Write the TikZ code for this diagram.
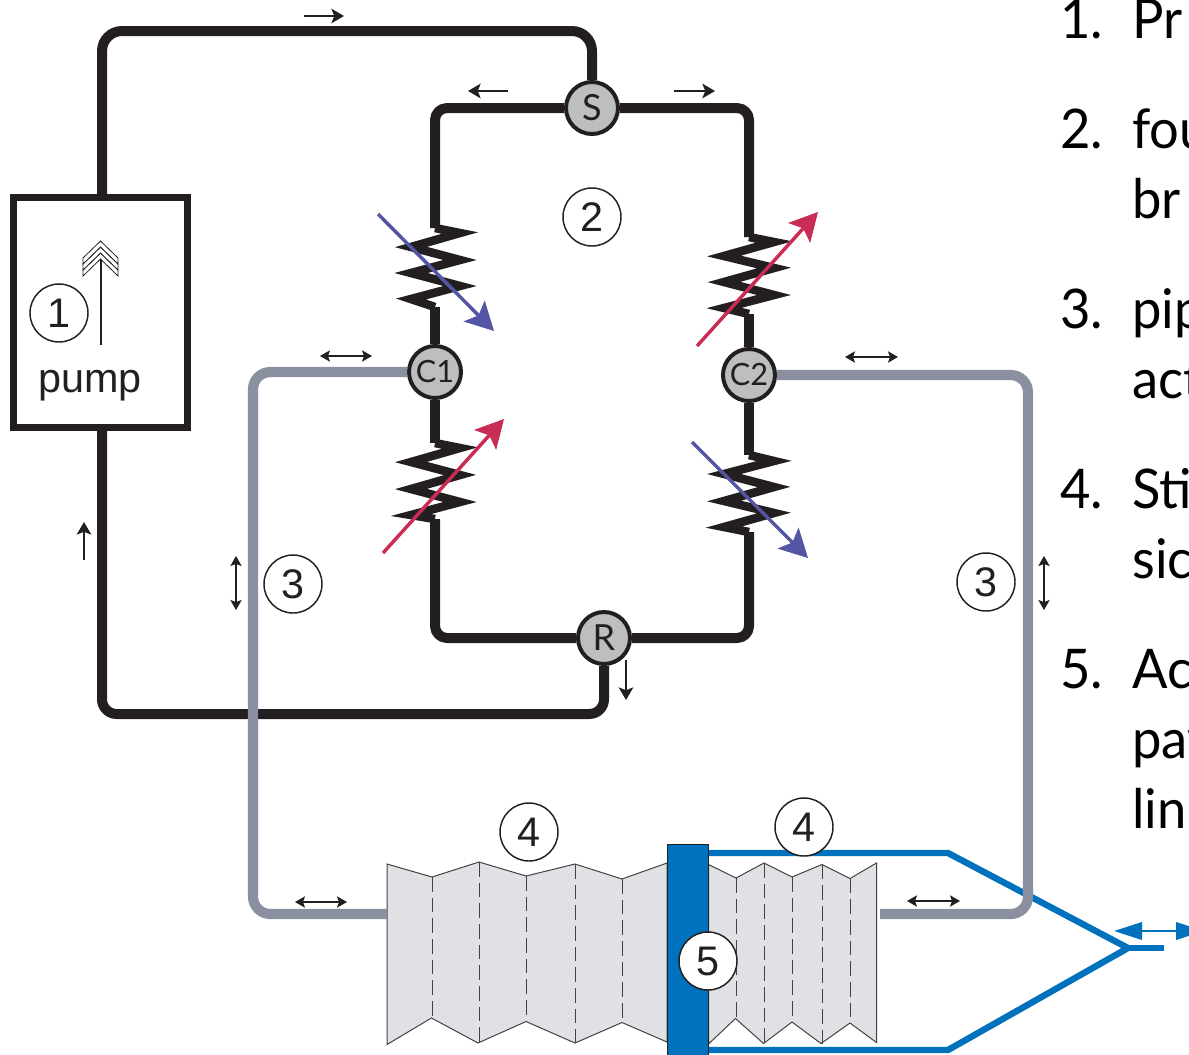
\documentclass[tikz,border=0pt]{standalone}
\usepackage{fontspec}
\setmainfont{Liberation Sans}
\newfontfamily\listfont[FakeStretch=0.96]{Lato}
\newfontfamily\valvefont{Lato}
\usetikzlibrary{arrows.meta}
\definecolor{ink}{HTML}{231F20}
\definecolor{pipegrey}{HTML}{8A90A0}
\definecolor{valvegrey}{HTML}{BCBEC0}
\definecolor{lineblue}{HTML}{0071BC}
\definecolor{bellowgrey}{HTML}{E1E1E5}
\definecolor{actblue}{HTML}{5555A5}
\definecolor{actred}{HTML}{C92C54}
\tikzset{
  x=0.75pt,y=-0.75pt,
  blackpipe/.style={draw=ink,line width=7.5pt,line join=round},
  greypipe/.style={draw=pipegrey,line width=7.6pt},
  bluepipe/.style={draw=lineblue,line width=4.8pt,line join=miter},
  zigzag/.style={draw=ink,line width=6.4pt,line join=miter,miter limit=30},
  valve/.style={circle,draw=ink,line width=3pt,fill=valvegrey,minimum size=39pt,inner sep=0pt,text=ink},
  bigvalve/.style={valve,font=\valvefont\fontsize{27}{27}\selectfont},
  smallvalve/.style={valve,font=\valvefont\fontsize{23}{23}\selectfont},
  tag/.style={circle,draw=ink,line width=1.1pt,fill=white,minimum size=43.5pt,inner sep=0pt,text=ink,font=\fontsize{31}{31}\selectfont},
  flow/.style={draw=ink,line width=0.9pt,-{Stealth[length=9.5pt,width=11pt,inset=2.2pt]}},
  flowboth/.style={draw=ink,line width=0.9pt,{Stealth[length=7.5pt,width=8.5pt,inset=1.5pt]}-{Stealth[length=7.5pt,width=8.5pt,inset=1.5pt]}},
  actblue arrow/.style={draw=actblue,line width=2.6pt,-{Stealth[length=21pt,width=22pt,inset=4.5pt]},actblue},
  actred arrow/.style={draw=actred,line width=2.6pt,-{Stealth[length=21pt,width=22pt,inset=4.5pt]},actred},
  bellows/.style={draw=ink!85,line width=0.75pt,fill=bellowgrey,line join=miter},
  fold/.style={draw=ink!85,line width=0.7pt,dash pattern=on 11pt off 4.5pt},
  chevron/.style={draw=ink,line width=0.6pt,fill=white},
  listtext/.style={anchor=base west,inner sep=0pt,text=black,font=\listfont\fontsize{41}{41}\selectfont},
}
\begin{document}
\begin{tikzpicture}
\useasboundingbox (0,0) rectangle (1189,1054);
\clip (0,0) rectangle (1189,1054);

% ---- nodes that the pipes attach to
\node[draw=ink,line width=4.8pt,minimum width=130.5pt,minimum height=172.5pt,inner sep=0pt] (pumpbox) at (100.5,312.5) {};
\node[bigvalve] (S) at (592,108) {S};
\node[smallvalve] (C1) at (435,372) {C1};
\node[smallvalve] (C2) at (749,375) {C2};
\node[bigvalve] (R) at (604,638) {R};

% ---- blue payload frame
\coordinate (bt) at (708,853);
\coordinate (bb) at (708,1050);
\coordinate (bj) at (1128,948);
\coordinate (bs) at (1164,948);
\draw[bluepipe] (bt) -- (948,853) -- (bj) -- (948,1050) -- (bb);
\draw[bluepipe] (bj) -- (bs);
\coordinate (ba) at (1114,931);
\coordinate (bc) at (1204,931);
\draw[draw=lineblue,line width=2pt,{Stealth[length=21pt,width=13pt,inset=0pt]}-{Stealth[length=21pt,width=13pt,inset=0pt]}] (ba) -- (bc);

% ---- bellows
\draw[bellows] (387,864) -- (432,877) -- (479,862) -- (526,876) -- (575,864) -- (622,879) -- (667,863)
  -- (667,1042) -- (622,1022.5) -- (575,1043) -- (526,1021.5) -- (478,1043) -- (431.5,1018) -- (387,1044.5) -- cycle;
\draw[bellows] (708.5,864.5) -- (736,878) -- (764,863) -- (792,877) -- (822,864.5) -- (850,878.5) -- (876.5,863)
  -- (876.5,1042.5) -- (850,1023) -- (821,1043.5) -- (792,1022) -- (763.5,1043.5) -- (735.5,1018.5) -- (708.5,1044) -- cycle;
\foreach \fx/\ft/\fb in {432/877/1018,479/862/1043,526/876/1021.5,575/864/1043,622/879/1022.5,
                         736/878/1018.5,764/863/1043.5,792/877/1022,822/864.5/1043.5,850/878.5/1023}
  \draw[fold] (\fx,\ft) -- (\fx,\fb);
\node[draw=ink,line width=0.75pt,fill=lineblue,minimum width=30.5pt,minimum height=180pt,inner sep=0pt,anchor=north] (plate) at (688,844) {};

% ---- pump loop
\coordinate (pumptop) at (102,196);
\coordinate (pumpbot) at (102,429);
\draw[blackpipe,rounded corners=15pt] (pumptop) -- (102,31) -- (592,31) [rounded corners=10pt] -- (S.north);
\draw[blackpipe,rounded corners=11pt] (pumpbot) -- (102,714) -- (604,714) -- (R.south);

% ---- bridge arms
\coordinate (r1a) at (435,228);
\coordinate (r1b) at (435,307);
\coordinate (r2a) at (435,443);
\coordinate (r2b) at (435,519);
\coordinate (r3a) at (749,237);
\coordinate (r3b) at (749,314);
\coordinate (r4a) at (749,455);
\coordinate (r4b) at (749,532);
\draw[blackpipe,rounded corners=9pt] (S.west) -- (435,108) -- (r1a);
\draw[blackpipe,rounded corners=9pt] (S.east) -- (749,108) -- (r3a);
\draw[blackpipe] (r1b) -- (C1.north);
\draw[blackpipe] (C1.south) -- (r2a);
\draw[blackpipe] (r3b) -- (C2.north);
\draw[blackpipe] (C2.south) -- (r4a);
\draw[blackpipe,rounded corners=9pt] (r2b) -- (435,638) -- (R.west);
\draw[blackpipe,rounded corners=9pt] (r4b) -- (749,638) -- (R.east);

\draw[zigzag] (r1a) -- (460,233) -- (411,247) -- (460,260) -- (411,273) -- (460,286) -- (411,299) -- (r1b);
\draw[zigzag] (r2a) -- (460,448) -- (411,462) -- (460,475) -- (411,489) -- (460,502) -- (411,515) -- (r2b);
\draw[zigzag] (r3a) -- (774,242) -- (724,256) -- (774,268) -- (724,282) -- (774,295) -- (724,308) -- (r3b);
\draw[zigzag] (r4a) -- (774,461) -- (724,474) -- (774,487) -- (724,501) -- (774,513) -- (724,527) -- (r4b);

% ---- grey pipes
\coordinate (gl) at (387,914);
\coordinate (gr) at (880,914);
\draw[greypipe,rounded corners=13pt] (C1.west) -- (253,372) -- (253,914) -- (gl);
\draw[greypipe,rounded corners=13pt] (C2.east) -- (1028,375) -- (1028,914) -- (gr);

% ---- actuation arrows
\coordinate (a1s) at (378,214); \coordinate (a1e) at (494,331);
\coordinate (a2s) at (383,553); \coordinate (a2e) at (504,419);
\coordinate (a3s) at (697,346); \coordinate (a3e) at (818,212);
\coordinate (a4s) at (692,442); \coordinate (a4e) at (808,558);
\draw[actblue arrow] (a1s) -- (a1e);
\draw[actred arrow] (a2s) -- (a2e);
\draw[actred arrow] (a3s) -- (a3e);
\draw[actblue arrow] (a4s) -- (a4e);

% ---- small flow arrows
\coordinate (f1a) at (304,16); \coordinate (f1b) at (344,16);
\coordinate (f2a) at (508,91); \coordinate (f2b) at (468,91);
\coordinate (f3a) at (674,91); \coordinate (f3b) at (715,91);
\coordinate (f4a) at (84,560); \coordinate (f4b) at (84,522);
\coordinate (f5a) at (626,660); \coordinate (f5b) at (626,700);
\coordinate (d1a) at (320,356); \coordinate (d1b) at (372,356);
\coordinate (d2a) at (845,357); \coordinate (d2b) at (898,357);
\coordinate (d3a) at (236,556); \coordinate (d3b) at (236,610);
\coordinate (d4a) at (1044,556); \coordinate (d4b) at (1044,610);
\coordinate (d5a) at (295,902); \coordinate (d5b) at (347,902);
\coordinate (d6a) at (907,901); \coordinate (d6b) at (960,901);
\draw[flow] (f1a) -- (f1b);
\draw[flow] (f2a) -- (f2b);
\draw[flow] (f3a) -- (f3b);
\draw[flow] (f4a) -- (f4b);
\draw[flow,line width=1.3pt] (f5a) -- (f5b);
\draw[flowboth] (d1a) -- (d1b);
\draw[flowboth] (d2a) -- (d2b);
\draw[flowboth] (d3a) -- (d3b);
\draw[flowboth] (d4a) -- (d4b);
\draw[flowboth] (d5a) -- (d5b);
\draw[flowboth] (d6a) -- (d6b);

% ---- pump symbol
\coordinate (pa) at (101,345);
\coordinate (pb) at (101,245);
\draw[draw=ink,line width=0.8pt] (pa) -- (pb);
\foreach \cy in {253,247,241}
  \draw[chevron] (100.5,\cy) -- (118,\cy+17) -- (118,\cy+23) -- (100.5,\cy+6) -- (83,\cy+23) -- (83,\cy+17) -- cycle;
\node[inner sep=0pt,text=ink,font=\fontsize{31}{31}\selectfont] (pumplabel) at (90,386) {pump};

% ---- numbered tags
\node[tag] (t1) at (59,313) {1};
\node[tag] (t2) at (592,217) {2};
\node[tag] (t3a) at (293,584) {3};
\node[tag] (t3b) at (986,582) {3};
\node[tag] (t4a) at (529,832) {4};
\node[tag] (t4b) at (804,827) {4};
\node[tag] (t5) at (708,961) {5};

% ---- list on the right, cut by the page edge
\node[listtext] (n1) at (1060,38) {1.};   \node[listtext] (l1) at (1132,38) {Pr};
\node[listtext] (n2) at (1060,148) {2.};  \node[listtext] (l2) at (1132,148) {fou};
\node[listtext] (l2b) at (1132,218) {br};
\node[listtext] (n3) at (1060,328) {3.};  \node[listtext] (l3) at (1132,328) {pip};
\node[listtext] (l3b) at (1132,398) {act};
\node[listtext] (n4) at (1060,508) {4.};  \node[listtext] (l4) at (1132,508) {Sti};
\node[listtext] (l4b) at (1132,578) {sic};
\node[listtext] (n5) at (1060,688) {5.};  \node[listtext] (l5) at (1132,688) {Ac};
\node[listtext] (l5b) at (1132,758) {pay};
\node[listtext] (l5c) at (1132,828) {lin};
\end{tikzpicture}
\end{document}
